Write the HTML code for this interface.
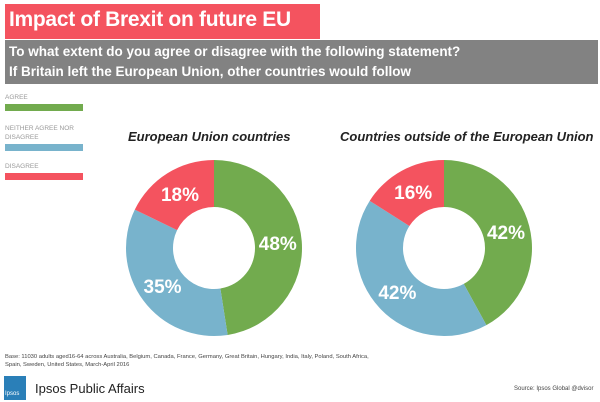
<!DOCTYPE html>
<html><head><style>
body{margin:0;width:600px;height:402px;background:#fff;position:relative;overflow:hidden;font-family:"Liberation Sans",sans-serif}
.a{position:absolute}
</style></head><body>
<div class="a" style="left:5px;top:4px;width:315px;height:35px;background:#f4535f"></div>
<div class="a" style="left:9px;top:8px;color:#fff;font-size:21px;font-weight:bold;letter-spacing:-0.3px">Impact of Brexit on future EU</div>
<div class="a" style="left:5px;top:40px;width:593px;height:44px;background:#828282"></div>
<div class="a" style="left:9px;top:42px;color:#fff;font-size:13.5px;font-weight:bold;line-height:20px">To what extent do you agree or disagree with the following statement?<br>If Britain left the European Union, other countries would follow</div>
<div class="a" style="left:5px;top:94px;font-size:6.5px;color:#999">AGREE</div>
<div class="a" style="left:5px;top:104px;width:78px;height:7px;background:#72ab4e"></div>
<div class="a" style="left:5px;top:124px;font-size:6.5px;color:#999;line-height:9px">NEITHER AGREE NOR<br>DISAGREE</div>
<div class="a" style="left:5px;top:144px;width:78px;height:7px;background:#78b3cc"></div>
<div class="a" style="left:5px;top:163px;font-size:6.5px;color:#999">DISAGREE</div>
<div class="a" style="left:5px;top:173px;width:78px;height:7px;background:#f4535f"></div>
<div class="a" style="left:128px;top:129px;font-size:13px;font-weight:bold;font-style:italic;color:#222">European Union countries</div>
<div class="a" style="left:340px;top:129px;font-size:13px;font-weight:bold;font-style:italic;color:#222">Countries outside of the European Union</div>
<svg class="a" style="left:0;top:0" width="600" height="402" id="s"></svg>
<script>
function donut(cx,cy,vals,cols,labs){
 var R=88,r=41,svg=document.getElementById('s'),a=0,tot=vals.reduce((x,y)=>x+y),h='';
 vals.forEach(function(v,i){
  var a1=a+v/tot*2*Math.PI,la=(a1-a)>Math.PI?1:0;
  function p(rr,ang){return [cx+rr*Math.sin(ang),cy-rr*Math.cos(ang)];}
  var o0=p(R,a),o1=p(R,a1),i1=p(r,a1),i0=p(r,a);
  h+='<path fill="'+cols[i]+'" d="M'+o0+' A'+R+','+R+' 0 '+la+' 1 '+o1+' L'+i1+' A'+r+','+r+' 0 '+la+' 0 '+i0+'Z"/>';
  var m=(a+a1)/2,t=p(64,m);
  h+='<text x="'+t[0]+'" y="'+(t[1]+7)+'" fill="#fff" font-family="Liberation Sans" font-weight="bold" font-size="19" text-anchor="middle">'+labs[i]+'</text>';
  a=a1;});
 svg.innerHTML+=h;}
donut(214,248,[48,35,18],['#72ab4e','#78b3cc','#f4535f'],['48%','35%','18%']);
donut(444,248,[42,42,16],['#72ab4e','#78b3cc','#f4535f'],['42%','42%','16%']);
</script>
<div class="a" style="left:5px;top:353px;font-size:5.8px;color:#444;line-height:8px">Base: 11030 adults aged16-64 across  Australia, Belgium, Canada, France, Germany, Great Britain, Hungary, India, Italy, Poland, South Africa,<br>Spain, Sweden, United States, March-April 2016</div>
<div class="a" style="left:4px;top:376px;width:22px;height:24px;background:#2a7fb8"></div>
<div class="a" style="left:5px;top:391px;font-size:6px;color:#fff">Ipsos</div>
<div class="a" style="left:35px;top:381px;font-size:13px;color:#222">Ipsos Public Affairs</div>
<div class="a" style="left:514px;top:386px;font-size:6px;color:#444">Source: Ipsos Global @dvisor</div>
</body></html>
